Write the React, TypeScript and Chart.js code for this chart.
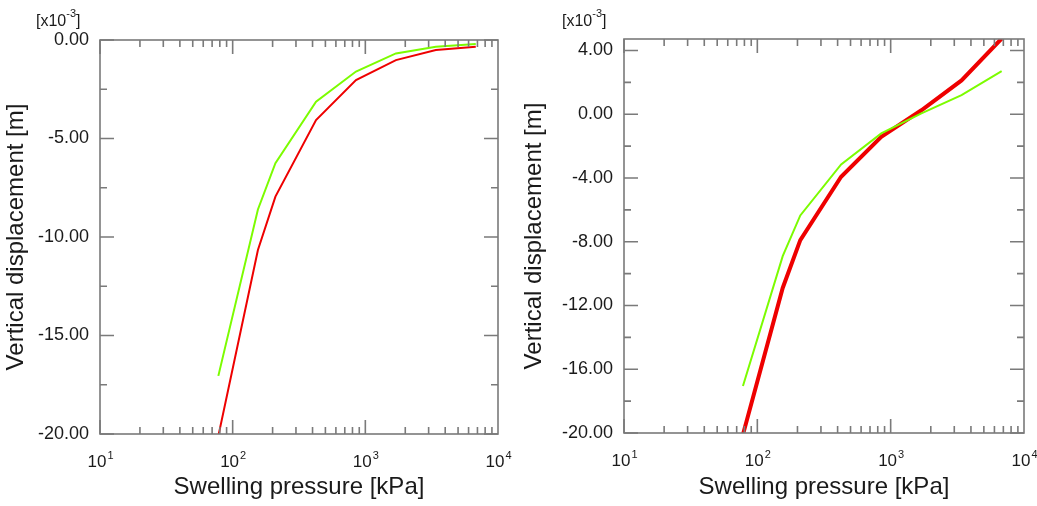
import React, { useEffect, useRef } from "react";
import { Chart, registerables } from "chart.js";

Chart.register(...registerables);

// ---------- data ----------
const pressure = [78, 155, 210, 425, 850, 1700, 3400, 6800];
const leftGreen = [-17.05, -8.6, -6.25, -3.13, -1.6, -0.68, -0.34, -0.2];
const leftRed = [-20.1, -10.66, -7.95, -4.06, -2.03, -1.02, -0.51, -0.34];
const rightGreen = [-17.05, -8.9, -6.35, -3.15, -1.2, 0.05, 1.2, 2.7];
const rightRed = [-20.1, -10.9, -7.9, -3.92, -1.42, 0.25, 2.12, 4.75];

const xTickValues = [10, 100, 1000, 10000];
const xTickBase = "10";
const xTickExponents = ["1", "2", "3", "4"];
const leftYMajor = [0, -5, -10, -15, -20];
const leftYMinor = [-2.5, -7.5, -12.5, -17.5];
const rightYMajor = [4, 0, -4, -8, -12, -16, -20];
const rightYMinor = [2, -2, -6, -10, -14, -18];

const X_TITLE = "Swelling pressure [kPa]";
const Y_TITLE = "Vertical displacement [m]";

const AXIS = "#7a7a7a";
const TEXT = "#1a1a1a";
const FONT = "'Liberation Sans', Arial, sans-serif";
const GREEN = "#7cfc00";
const RED = "#ee0000";

const framePlugin = {
  id: "frameTicks",
  afterDatasetsDraw(chart: any, _args: any, opts: any) {
    const { ctx, chartArea: a, scales } = chart;
    const x = scales.x;
    const y = scales.y;
    ctx.save();
    ctx.strokeStyle = AXIS;
    ctx.lineWidth = 1.6;
    ctx.strokeRect(a.left, a.top, a.right - a.left, a.bottom - a.top);
    ctx.beginPath();
    for (let d = 1; d < 4; d++) {
      for (let m = 1; m < 10; m++) {
        const px = x.getPixelForValue(m * Math.pow(10, d));
        const L = m === 1 ? 14 : 7;
        ctx.moveTo(px, a.bottom);
        ctx.lineTo(px, a.bottom - L);
        ctx.moveTo(px, a.top);
        ctx.lineTo(px, a.top + L);
      }
    }
    const drawY = (vals: number[], L: number) => {
      vals.forEach((v) => {
        const py = y.getPixelForValue(v);
        ctx.moveTo(a.left, py);
        ctx.lineTo(a.left + L, py);
        ctx.moveTo(a.right, py);
        ctx.lineTo(a.right - L, py);
      });
    };
    drawY(opts.major || [], 14);
    drawY(opts.minor || [], 7);
    ctx.stroke();

    ctx.fillStyle = TEXT;
    ctx.textBaseline = "alphabetic";
    ctx.textAlign = "left";

    // x tick labels: 10^n with superscript, placed by the log scale
    xTickValues.forEach((v, i) => {
      const px = x.getPixelForValue(v);
      ctx.font = `17px ${FONT}`;
      const wb = ctx.measureText(xTickBase).width;
      ctx.font = `11px ${FONT}`;
      const we = ctx.measureText(xTickExponents[i]).width;
      const x0 = px - (wb + we) / 2;
      const base = a.bottom + 33;
      ctx.font = `17px ${FONT}`;
      ctx.fillText(xTickBase, x0, base);
      ctx.font = `11px ${FONT}`;
      ctx.fillText(xTickExponents[i], x0 + wb + 1, base - 8);
    });

    // exponent label
    const lx = opts.expX;
    const ly = 26;
    ctx.font = `16px ${FONT}`;
    const t1 = "[x10";
    ctx.fillText(t1, lx, ly);
    let cx = lx + ctx.measureText(t1).width;
    ctx.font = `11px ${FONT}`;
    const t2 = "-3";
    ctx.fillText(t2, cx, ly - 9);
    cx += ctx.measureText(t2).width;
    ctx.font = `16px ${FONT}`;
    ctx.fillText("]", cx, ly);
    ctx.restore();
  },
};

type Cfg = {
  green: number[];
  red: number[];
  redWidth: number;
  yMin: number;
  yMax: number;
  yMajor: number[];
  yMinor: number[];
  yWidth: number;
  xHeight: number;
  padTop: number;
  padRight: number;
  expX: number;
};

function PlotCanvas({ cfg, left, width }: { cfg: Cfg; left: number; width: number }) {
  const ref = useRef<HTMLCanvasElement | null>(null);
  useEffect(() => {
    if (!ref.current) return;
    const chart = new Chart(ref.current, {
      type: "line",
      data: {
        datasets: [
          {
            label: "green",
            data: pressure.map((p, i) => ({ x: p, y: cfg.green[i] })),
            borderColor: GREEN,
            borderWidth: 2,
            pointRadius: 0,
            fill: false,
            tension: 0,
          },
          {
            label: "red",
            data: pressure.map((p, i) => ({ x: p, y: cfg.red[i] })),
            borderColor: RED,
            borderWidth: cfg.redWidth,
            pointRadius: 0,
            fill: false,
            tension: 0,
          },
        ],
      },
      options: {
        animation: false,
        responsive: false,
        layout: { padding: { top: cfg.padTop, right: cfg.padRight, left: 0, bottom: 0 } },
        plugins: {
          legend: { display: false },
          tooltip: { enabled: false },
          frameTicks: { major: cfg.yMajor, minor: cfg.yMinor, expX: cfg.expX },
        } as any,
        scales: {
          x: {
            type: "logarithmic",
            min: 10,
            max: 10000,
            grid: { display: false, drawTicks: false },
            border: { display: false },
            afterBuildTicks: (s: any) => {
              s.ticks = xTickValues.map((value) => ({ value }));
            },
            afterFit: (s: any) => {
              s.height = cfg.xHeight;
              s.paddingLeft = 0;
              s.paddingRight = 0;
            },
            ticks: { display: false },
            title: {
              display: true,
              text: X_TITLE,
              color: TEXT,
              font: { family: FONT, size: 24 },
              padding: { top: 0, bottom: 4 },
            },
          },
          y: {
            type: "linear",
            min: cfg.yMin,
            max: cfg.yMax,
            grid: { display: false, drawTicks: false },
            border: { display: false },
            afterBuildTicks: (s: any) => {
              s.ticks = cfg.yMajor.map((value) => ({ value }));
            },
            afterFit: (s: any) => {
              s.width = cfg.yWidth;
              s.paddingTop = 0;
              s.paddingBottom = 0;
            },
            ticks: {
              autoSkip: false,
              padding: 11,
              color: TEXT,
              font: { family: FONT, size: 18 },
              callback: (v: any) => Number(v).toFixed(2),
            },
            title: {
              display: true,
              text: Y_TITLE,
              color: TEXT,
              font: { family: FONT, size: 24 },
              padding: { top: 2, bottom: 0 },
            },
          },
        },
      } as any,
      plugins: [framePlugin as any],
    });
    return () => chart.destroy();
  }, [cfg]);
  return (
    <canvas
      ref={ref}
      width={width}
      height={506}
      style={{ position: "absolute", left, top: 0, width, height: 506 }}
    />
  );
}

const leftCfg: Cfg = {
  green: leftGreen,
  red: leftRed,
  redWidth: 2,
  yMin: -20,
  yMax: 0,
  yMajor: leftYMajor,
  yMinor: leftYMinor,
  yWidth: 100,
  xHeight: 72,
  padTop: 40,
  padRight: 20,
  expX: 36,
};

const rightCfg: Cfg = {
  green: rightGreen,
  red: rightRed,
  redWidth: 4,
  yMin: -20,
  yMax: 4.72,
  yMajor: rightYMajor,
  yMinor: rightYMinor,
  yWidth: 106,
  xHeight: 73,
  padTop: 39,
  padRight: 13,
  expX: 44,
};

export default function App() {
  return (
    <div
      style={{
        position: "fixed",
        left: 0,
        top: 0,
        width: 1037,
        height: 506,
        background: "#ffffff",
        overflow: "hidden",
      }}
    >
      <PlotCanvas cfg={leftCfg} left={0} width={518} />
      <PlotCanvas cfg={rightCfg} left={518} width={519} />
    </div>
  );
}
